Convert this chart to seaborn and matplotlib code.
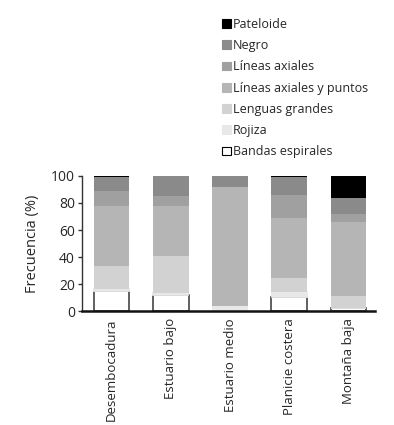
import numpy as np
import matplotlib
matplotlib.use("Agg")
import matplotlib.pyplot as plt
import seaborn as sns
from matplotlib.patches import Patch

# Data (% per zone)
zonas = ["Desembocadura", "Estuario bajo", "Estuario medio", "Planicie costera", "Montaña baja"]
bandas_espirales = [15, 12, 0, 10.5, 2.5]
rojiza = [1, 1.5, 3.5, 4, 0]
lenguas_grandes = [17.5, 27.5, 0, 10, 9]
lineas_axiales_puntos = [44, 37, 88.5, 44.5, 54.5]
lineas_axiales = [11.5, 7.5, 0, 17, 6]
negro = [10, 15, 8, 13, 12]
pateloide = [1, 0, 0, 1, 16]

series = [
    ("Bandas espirales", bandas_espirales, "#ffffff"),
    ("Rojiza", rojiza, "#e8e8e8"),
    ("Lenguas grandes", lenguas_grandes, "#d2d2d2"),
    ("Líneas axiales y puntos", lineas_axiales_puntos, "#b5b5b5"),
    ("Líneas axiales", lineas_axiales, "#a0a0a0"),
    ("Negro", negro, "#8a8a8a"),
    ("Pateloide", pateloide, "#000000"),
]

sns.set_style("ticks")
plt.rcParams["font.family"] = ["Open Sans", "DejaVu Sans"]

fig = plt.figure(figsize=(3.94, 4.25), dpi=100)
ax = fig.add_axes([0.208, 0.268, 0.744, 0.318])

bottom = np.zeros(len(zonas))
for i, (name, vals, col) in enumerate(series):
    vals = np.array(vals, dtype=float)
    if i == 0:
        # white segment: dark side edges
        sns.barplot(x=zonas, y=vals, color=col, width=0.6, ax=ax,
                    edgecolor="#444444", linewidth=1.2, saturation=1)
    elif i == 1:
        # cover the top edge of the white segment
        sns.barplot(x=zonas, y=vals, color=col, width=0.585, ax=ax,
                    bottom=bottom, edgecolor=col, linewidth=1.3, saturation=1)
    else:
        sns.barplot(x=zonas, y=vals, color=col, width=0.6, ax=ax,
                    bottom=bottom, linewidth=0, saturation=1)
    bottom = bottom + vals

ax.set_ylim(0, 100)
ax.set_xlim(-0.5, 4.45)
ax.set_yticks([0, 20, 40, 60, 80, 100])
ax.set_ylabel("Frecuencia (%)", fontsize=10.5, labelpad=8)
ax.set_xlabel("")
ax.tick_params(axis="y", labelsize=10, length=3, width=1, color="#333333", pad=2)
ax.tick_params(axis="x", labelsize=9.5, length=0, pad=5)
for lab in ax.get_xticklabels():
    lab.set_rotation(90)
sns.despine(ax=ax)
ax.spines["bottom"].set_linewidth(1.8)
ax.spines["bottom"].set_color("#111111")
ax.spines["left"].set_linewidth(1)
ax.spines["left"].set_color("#333333")

handles = []
for name, vals, col in reversed(series):
    ec = "#000000" if name == "Bandas espirales" else col
    handles.append(Patch(facecolor=col, edgecolor=ec, linewidth=0.8, label=name))
fig.legend(handles=handles, loc="upper left", bbox_to_anchor=(0.563, 0.958),
           frameon=False, fontsize=9, handlelength=0.7, handleheight=0.7,
           handletextpad=0.2, labelspacing=0.66, borderpad=0, borderaxespad=0)

fig.savefig("out.png", dpi=100)
